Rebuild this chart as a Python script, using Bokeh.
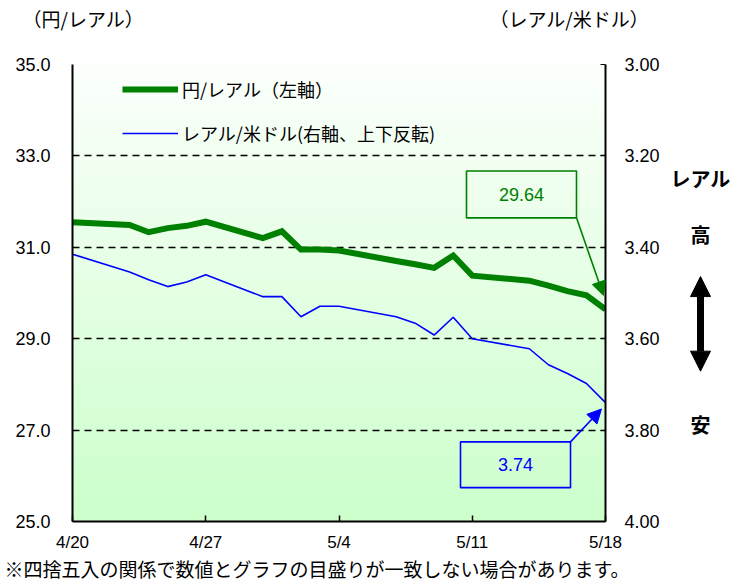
import numpy as np
import pandas as pd
from bokeh.plotting import figure
from bokeh.layouts import column, row
from bokeh.models import (Range1d, LinearAxis, FixedTicker, PrintfTickFormatter, Legend,
                          LegendItem, Label, Arrow, NormalHead, BoxAnnotation)
from bokeh.embed import file_html
from bokeh.resources import INLINE

# ---------------- data ----------------
dates = ["2018-04-20",
         "2018-04-23", "2018-04-24", "2018-04-25", "2018-04-26", "2018-04-27",
         "2018-04-30", "2018-05-01", "2018-05-02", "2018-05-03", "2018-05-04",
         "2018-05-07", "2018-05-08", "2018-05-09", "2018-05-10", "2018-05-11",
         "2018-05-14", "2018-05-15", "2018-05-16", "2018-05-17", "2018-05-18"]
yen_per_real = [31.55,
                31.49, 31.33, 31.42, 31.47, 31.56,
                31.20, 31.35, 30.95, 30.95, 30.93,
                30.70, 30.63, 30.55, 30.82, 30.38,
                30.27, 30.16, 30.04, 29.95, 29.64]
real_per_usd = [3.415,
                3.454, 3.471, 3.486, 3.476, 3.460,
                3.508, 3.508, 3.552, 3.529, 3.529,
                3.552, 3.566, 3.592, 3.553, 3.600,
                3.622, 3.657, 3.676, 3.698, 3.740]
tick_dates = ["2018-04-20", "2018-04-27", "2018-05-04", "2018-05-11", "2018-05-18"]
tick_labels = ["4/20", "4/27", "5/4", "5/11", "5/18"]
left_ticks = [25.0, 27.0, 29.0, 31.0, 33.0, 35.0]
right_ticks = [3.00, 3.20, 3.40, 3.60, 3.80, 4.00]
last_yen_label = "29.64"
last_real_label = "3.74"

# ---------------- layout constants (canvas pixels) ----------------
TOTAL_W, TOTAL_H = 735, 582
TOP_H = 50            # strip with the two unit titles
BOT_H = 28            # strip with the footnote
MAIN_W = 665
MAIN_H = TOTAL_H - TOP_H - BOT_H
SIDE_W = TOTAL_W - MAIN_W
FL, FT, FR, FB = 72, 64, 605, 523   # frame edges in page pixels
GREEN = "#008000"
BLUE = "#0000ff"
JP = "Noto Sans CJK JP"
NUM = "Liberation Sans"

base = pd.Timestamp(dates[0])
x = [(pd.Timestamp(d) - base).days for d in dates]
tx = [(pd.Timestamp(d) - base).days for d in tick_dates]

x0, x1 = tx[0], tx[-1]
y0, y1 = left_ticks[0], left_ticks[-1]
dxp = (x1 - x0) / (FR - FL)
dyp = (y1 - y0) / (FB - FT)


def page(px, py):
    """page pixel position -> data coords of the main chart (left axis)"""
    return x0 + (px - FL) * dxp, y1 - (py - FT) * dyp


def blank(w, h, xr, yr):
    f = figure(width=w, height=h, x_range=Range1d(*xr), y_range=Range1d(*yr),
               x_axis_type=None, y_axis_type=None, output_backend="svg",
               toolbar_location=None, title=None, min_border=0)
    f.outline_line_color = None
    f.background_fill_color = "white"
    f.border_fill_color = "white"
    return f


# ---------------- main chart ----------------
p = figure(width=MAIN_W, height=MAIN_H, x_range=Range1d(x0, x1), y_range=Range1d(y0, y1),
           output_backend="svg", toolbar_location=None, title=None,
           min_border_left=FL, min_border_right=MAIN_W - FR,
           min_border_top=FT - TOP_H, min_border_bottom=MAIN_H - (FB - TOP_H))
p.outline_line_color = None
p.background_fill_color = "white"
p.border_fill_color = "white"

# gradient background (white -> light green)
n = 80
edges = np.linspace(y1, y0, n + 1)
fr = np.linspace(0, 1, n)
cols = ["#%02x%02x%02x" % (int(252 - 48 * f), 255, int(252 - 48 * f)) for f in fr]
bg = p.quad(left=x0, right=x1, top=edges[:-1], bottom=edges[1:], fill_color=cols,
            line_color=cols, line_width=1)
bg.level = "image"

p.extra_y_ranges = {"right": Range1d(right_ticks[-1], right_ticks[0])}

p.xgrid.visible = False
p.ygrid.ticker = FixedTicker(ticks=left_ticks)
p.ygrid.grid_line_color = "black"
p.ygrid.grid_line_dash = "7 5"
p.ygrid.grid_line_width = 1.6

g = p.line(x, yen_per_real, line_color=GREEN, line_width=6, line_join="miter")
b = p.line(x, real_per_usd, line_color=BLUE, line_width=1.6, y_range_name="right")

xa = p.xaxis[0]
xa.ticker = FixedTicker(ticks=tx)
xa.major_label_overrides = {t: l for t, l in zip(tx, tick_labels)}
xa.major_tick_in = 6
xa.major_tick_out = 0
xa.minor_tick_line_color = None
xa.axis_line_width = 2
xa.major_tick_line_width = 1.5
xa.major_label_text_font = NUM
xa.major_label_text_font_size = "17px"
xa.major_label_text_color = "black"
xa.major_label_standoff = 11

ya = p.yaxis[0]
ya.ticker = FixedTicker(ticks=left_ticks)
ya.formatter = PrintfTickFormatter(format="%.1f")
ya.major_tick_in = 0
ya.major_tick_out = 0
ya.minor_tick_line_color = None
ya.axis_line_width = 2
ya.major_label_text_font = NUM
ya.major_label_text_font_size = "18px"
ya.major_label_text_color = "black"
ya.major_label_standoff = 22

ra = LinearAxis(y_range_name="right", ticker=FixedTicker(ticks=right_ticks),
                formatter=PrintfTickFormatter(format="%.2f"))
ra.major_tick_in = 5
ra.major_tick_out = 0
ra.minor_tick_line_color = None
ra.axis_line_width = 2
ra.major_label_text_font = NUM
ra.major_label_text_font_size = "18px"
ra.major_label_text_color = "black"
ra.major_label_standoff = 19
p.add_layout(ra, "right")

legend = Legend(items=[LegendItem(label="円/レアル（左軸）", renderers=[g]),
                       LegendItem(label="レアル/米ドル(右軸、上下反転)", renderers=[b])],
                location=(50, 375), orientation="vertical",
                background_fill_alpha=0, border_line_alpha=0,
                glyph_width=56, glyph_height=20, label_height=20, label_standoff=4,
                spacing=18, padding=0, margin=0,
                label_text_font=JP, label_text_font_size="18px", label_text_color="black")
p.add_layout(legend)

# value call-outs
gx0, gy0 = page(466, 171)
gx1, gy1 = page(576, 218)
p.add_layout(BoxAnnotation(left=gx0, right=gx1, top=gy0, bottom=gy1, fill_alpha=0,
                           line_color=GREEN, line_alpha=1, line_width=1.6))
tcx, tcy = page(521, 195)
p.add_layout(Label(x=tcx, y=tcy, text=last_yen_label, text_align="center",
                   text_baseline="middle", text_font=NUM, text_font_size="18px",
                   text_color=GREEN))
ax, ay = page(603, 296)
p.add_layout(Arrow(x_start=gx1, y_start=gy1, x_end=ax, y_end=ay, line_color=GREEN,
                   line_width=1.6, end=NormalHead(size=14, fill_color=GREEN, line_color=GREEN)))

bx0, by0 = page(460, 443)
bx1, by1 = page(570, 489)
p.add_layout(BoxAnnotation(left=bx0, right=bx1, top=by0, bottom=by1, fill_alpha=0,
                           line_color=BLUE, line_alpha=1, line_width=1.6))
tcx, tcy = page(515, 466)
p.add_layout(Label(x=tcx, y=tcy, text=last_real_label, text_align="center",
                   text_baseline="middle", text_font=NUM, text_font_size="18px",
                   text_color=BLUE))
ax, ay = page(601, 410)
p.add_layout(Arrow(x_start=bx1, y_start=by0, x_end=ax, y_end=ay, line_color=BLUE,
                   line_width=1.6, end=NormalHead(size=14, fill_color=BLUE, line_color=BLUE)))

# ---------------- top strip: unit titles ----------------
top = blank(TOTAL_W, TOP_H, (0, TOTAL_W), (TOP_H, 0))
top.add_layout(Label(x=22, y=18, text="（円/レアル）", text_align="left", text_baseline="middle",
                     text_font=JP, text_font_size="19px", text_color="black"))
top.add_layout(Label(x=489, y=18, text="（レアル/米ドル）", text_align="left",
                     text_baseline="middle", text_font=JP, text_font_size="19px",
                     text_color="black"))

# ---------------- side strip: direction note (frame is aligned with the main frame) ----------------
side = blank(SIDE_W, MAIN_H, (MAIN_W, TOTAL_W), (FB, FT))
for txt, py in [("レアル", 179), ("高", 235), ("安", 426)]:
    side.add_layout(Label(x=700, y=py, text=txt, text_align="center", text_baseline="middle",
                          text_font=JP, text_font_size="20px", text_font_style="bold",
                          text_color="black"))
side.add_layout(Arrow(x_start=700, y_start=277, x_end=700, y_end=372, line_color="black",
                      line_width=7,
                      start=NormalHead(size=20, fill_color="black", line_color="black"),
                      end=NormalHead(size=20, fill_color="black", line_color="black")))

# ---------------- bottom strip: footnote ----------------
bot = blank(TOTAL_W, BOT_H, (0, TOTAL_W), (TOTAL_H, TOTAL_H - BOT_H))
bot.add_layout(Label(x=4, y=TOTAL_H - BOT_H / 2, text="※四捨五入の関係で数値とグラフの目盛りが一致しない場合があります。",
                     text_align="left", text_baseline="middle", text_font=JP,
                     text_font_size="19px", text_color="black"))

layout = column(top, row(p, side, spacing=0), bot, spacing=0)
open("out.html", "w").write(file_html(layout, INLINE))
